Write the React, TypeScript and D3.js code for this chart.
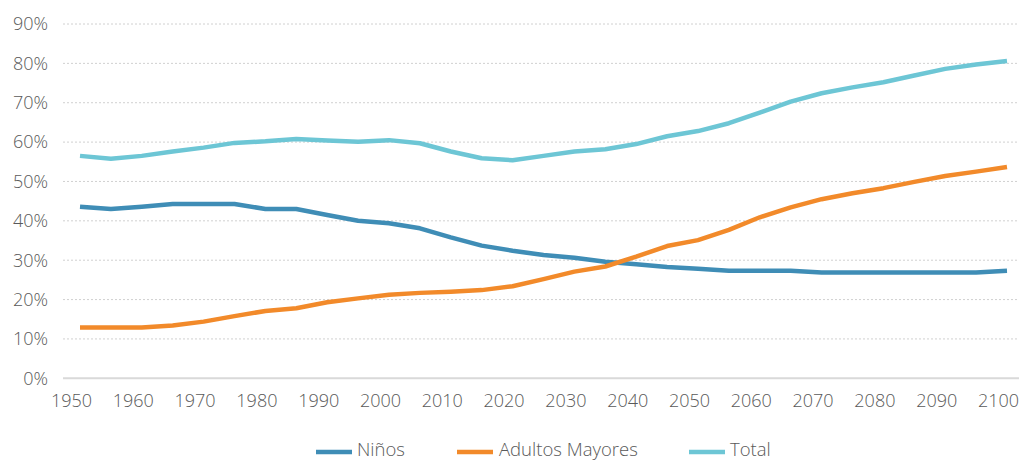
import { useEffect, useRef } from 'react';
import * as d3 from 'd3';

// años (cada 5 años)
const years: number[] = [
  1950, 1955, 1960, 1965, 1970, 1975, 1980, 1985, 1990, 1995, 2000, 2005, 2010, 2015, 2020, 2025,
  2030, 2035, 2040, 2045, 2050, 2055, 2060, 2065, 2070, 2075, 2080, 2085, 2090, 2095, 2100
];

const ninos: number[] = [
  43.6, 43.0, 43.6, 44.3, 44.3, 44.3, 43.0, 43.0, 41.5, 40.0, 39.4, 38.1, 35.8, 33.7, 32.4, 31.3,
  30.6, 29.6, 29.0, 28.3, 27.8, 27.3, 27.3, 27.3, 26.9, 26.9, 26.9, 26.9, 26.9, 26.9, 27.3
];

const adultosMayores: number[] = [
  12.9, 12.9, 12.9, 13.4, 14.4, 15.8, 17.1, 17.8, 19.3, 20.3, 21.2, 21.7, 22.0, 22.4, 23.4, 25.2,
  27.1, 28.4, 30.9, 33.6, 35.1, 37.7, 40.9, 43.4, 45.5, 47.0, 48.3, 49.9, 51.4, 52.5, 53.7
];

const total: number[] = [
  56.5, 55.8, 56.5, 57.6, 58.6, 59.8, 60.2, 60.8, 60.4, 60.1, 60.5, 59.7, 57.6, 55.9, 55.4, 56.5,
  57.6, 58.2, 59.5, 61.5, 62.8, 64.8, 67.5, 70.3, 72.4, 73.9, 75.2, 76.9, 78.6, 79.7, 80.6
];

const xTicks: number[] = [1950, 1960, 1970, 1980, 1990, 2000, 2010, 2020, 2030, 2040, 2050, 2060, 2070, 2080, 2090, 2100];
const yTicks: number[] = [0, 10, 20, 30, 40, 50, 60, 70, 80, 90];

const seriesNames: string[] = ['Niños', 'Adultos Mayores', 'Total'];
const seriesColors: string[] = ['#3f8db6', '#f28a2a', '#6dc6d5'];

export default function App() {
  const svgRef = useRef<SVGSVGElement>(null);

  useEffect(() => {
    if (!svgRef.current) return;
    const svg = d3.select(svgRef.current);
    svg.selectAll('*').remove();

    const width = 1021;
    const height = 460;
    const font = '"Open Sans", "DejaVu Sans", sans-serif';

    svg.attr('width', width).attr('height', height);

    const x = d3.scaleLinear().domain([1950, 2100]).range([80, 1007]);
    const y = d3.scaleLinear().domain([0, 90]).range([378.3, 24]);

    // grid
    svg
      .append('g')
      .selectAll('line')
      .data(yTicks.filter((t) => t > 0))
      .enter()
      .append('line')
      .attr('x1', 63)
      .attr('x2', 1019)
      .attr('y1', (d) => y(d))
      .attr('y2', (d) => y(d))
      .attr('stroke', '#d0d0d0')
      .attr('stroke-width', 1)
      .attr('stroke-dasharray', '2,2');

    // eje x
    svg
      .append('line')
      .attr('x1', 63)
      .attr('x2', 1019)
      .attr('y1', y(0))
      .attr('y2', y(0))
      .attr('stroke', '#d9d9d9')
      .attr('stroke-width', 2);

    // etiquetas y
    svg
      .append('g')
      .selectAll('text')
      .data(yTicks)
      .enter()
      .append('text')
      .attr('x', 48)
      .attr('y', (d) => y(d) + 6.3)
      .attr('text-anchor', 'end')
      .attr('font-family', font)
      .attr('font-weight', 300)
      .attr('font-size', 18)
      .attr('fill', '#595959')
      .text((d) => `${d}%`);

    // etiquetas x
    svg
      .append('g')
      .selectAll('text')
      .data(xTicks)
      .enter()
      .append('text')
      .attr('x', (d) => x(d) - 8.5)
      .attr('y', 406.5)
      .attr('text-anchor', 'middle')
      .attr('font-family', font)
      .attr('font-weight', 300)
      .attr('font-size', 18)
      .attr('fill', '#595959')
      .text((d) => String(d));

    // lineas
    const allSeries = [ninos, adultosMayores, total];
    const line = d3
      .line<number>()
      .x((_, i) => x(years[i]))
      .y((d) => y(d));

    allSeries.forEach((values, i) => {
      svg
        .append('path')
        .datum(values)
        .attr('fill', 'none')
        .attr('stroke', seriesColors[i])
        .attr('stroke-width', 4.5)
        .attr('stroke-linejoin', 'round')
        .attr('d', line);
    });

    // leyenda
    const legendX = [316, 457, 689];
    const legend = svg
      .append('g')
      .selectAll('g')
      .data(seriesNames)
      .enter()
      .append('g')
      .attr('transform', (_, i) => `translate(${legendX[i]},452)`);

    legend
      .append('line')
      .attr('x1', 0)
      .attr('x2', 36)
      .attr('y1', 0)
      .attr('y2', 0)
      .attr('stroke', (_, i) => seriesColors[i])
      .attr('stroke-width', 4.5);

    legend
      .append('text')
      .attr('x', (_, i) => (i === 1 ? 42 : 41))
      .attr('y', 3.5)
      .attr('font-family', font)
      .attr('font-weight', 300)
      .attr('font-size', 18.5)
      .attr('fill', '#595959')
      .text((d) => d);
  }, []);

  return (
    <div style={{ position: 'absolute', left: 0, top: 0 }}>
      <svg ref={svgRef} style={{ display: 'block' }} />
    </div>
  );
}
